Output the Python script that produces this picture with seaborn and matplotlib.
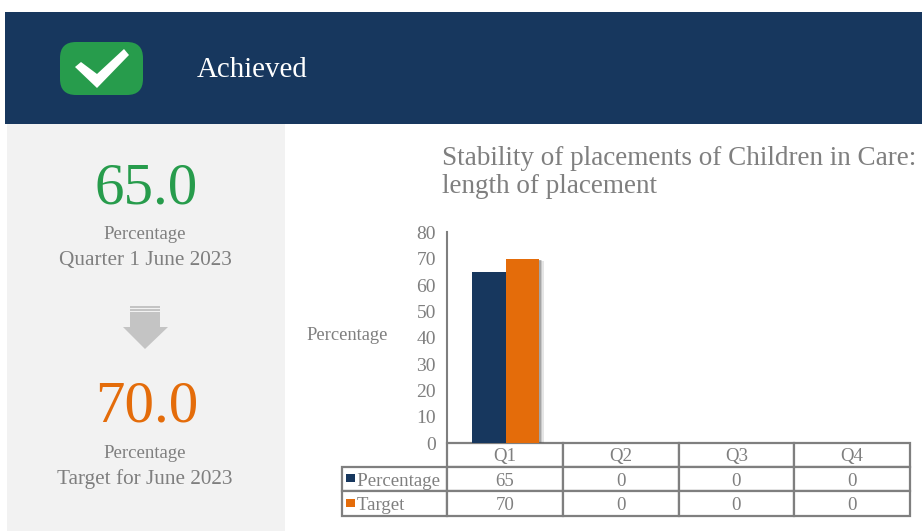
import matplotlib
matplotlib.use('Agg')
import matplotlib.pyplot as plt
import matplotlib.patheffects as pe
from matplotlib.patches import Rectangle, FancyBboxPatch, Polygon
from matplotlib.table import Table
import pandas as pd
import seaborn as sns

quarters = ['Q1', 'Q2', 'Q3', 'Q4']
percentage = [65, 0, 0, 0]
target = [70, 0, 0, 0]
series_names = ['Percentage', 'Target']
y_ticks = [0, 10, 20, 30, 40, 50, 60, 70, 80]

status = 'Achieved'
actual_value = '65.0'
actual_label = 'Quarter 1 June 2023'
target_value = '70.0'
target_label = 'Target for June 2023'
chart_title = 'Stability of placements of Children in Care:\nlength of placement'

navy = '#17375e'
orange = '#e46c0a'
green = '#279c4c'
grey = '#7f7f7f'

sns.set_theme(style='white')
plt.rcParams['font.family'] = ['Liberation Serif', 'DejaVu Serif']

W, H = 922, 531
fig = plt.figure(figsize=(W / 100, H / 100), dpi=100, facecolor='white')

# background layer in pixel coordinates
bg = fig.add_axes([0, 0, 1, 1])
bg.set_xlim(0, W)
bg.set_ylim(H, 0)
bg.axis('off')
bg.add_patch(Rectangle((5, 12), W - 5, 112, fc=navy, ec='none'))
bg.add_patch(Rectangle((7, 124), 278, H - 124, fc='#f2f2f2', ec='none'))
bg.add_patch(FancyBboxPatch((75, 57), 53, 23, boxstyle='round,pad=15,rounding_size=16',
                            fc=green, ec='none', mutation_scale=1))
bg.add_patch(Polygon([(75, 67), (81, 62), (97, 74), (124, 49), (129, 55), (97, 88)], fc='white', ec='none'))
bg.text(197, 70, status, color='white', fontsize=20.8, va='center', ha='left')

bg.text(146.5, 189, actual_value, color=green, fontsize=42.5, va='center', ha='center')
bg.text(145, 234.5, series_names[0], color=grey, fontsize=13.5, va='center', ha='center')
bg.text(145, 260.5, actual_label, color=grey, fontsize=15.3, va='center', ha='center')
bg.text(146.5, 407, target_value, color=orange, fontsize=42.5, va='center', ha='center')
bg.text(145, 453.5, series_names[0], color=grey, fontsize=13.5, va='center', ha='center')
bg.text(145, 479, target_label, color=grey, fontsize=15.3, va='center', ha='center')

# down arrow
bg.add_patch(Rectangle((130, 306), 30, 2, fc='#c4c4c4', ec='none'))
bg.add_patch(Rectangle((130, 309), 30, 2, fc='#c4c4c4', ec='none'))
bg.add_patch(Polygon([(130, 312), (160, 312), (160, 327), (168, 327), (145, 349), (123, 327), (130, 327)],
                     fc='#c4c4c4', ec='none'))

# chart
left, right, top, bottom = 447, 910, 232.5, 443
ax = fig.add_axes([left / W, 1 - bottom / H, (right - left) / W, (bottom - top) / H])
ax.patch.set_alpha(0)

df = pd.DataFrame({
    'Quarter': quarters * 2,
    'Series': [series_names[0]] * 4 + [series_names[1]] * 4,
    'Value': percentage + target,
})
sns.barplot(data=df, x='Quarter', y='Value', hue='Series', palette=[navy, orange],
            width=0.58, gap=0, saturation=1, legend=False, ax=ax)
for bar in ax.patches:
    bar.set_linewidth(0)
    bar.set_path_effects([pe.SimplePatchShadow(offset=(3.2, -1.5), shadow_rgbFace='#555555', alpha=0.15),
                          pe.SimplePatchShadow(offset=(2.2, -1), shadow_rgbFace='#555555', alpha=0.2),
                          pe.SimplePatchShadow(offset=(1.2, -0.5), shadow_rgbFace='#555555', alpha=0.3),
                          pe.Normal()])

ax.set_ylim(0, 80)
ax.set_xlim(-0.508, 3.492)
ax.set_yticks(y_ticks)
ax.tick_params(axis='y', length=0, pad=8, labelsize=14, labelcolor=grey)
ax.set_xticks([])
ax.set_xlabel('')
ax.set_ylabel('Percentage', rotation=0, color=grey, fontsize=13.3, ha='center', va='center')
ax.yaxis.set_label_coords((347 - left) / (right - left), (bottom - 335) / (bottom - top))
sns.despine(ax=ax, top=True, right=True, bottom=True)
ax.spines['left'].set_color(grey)
ax.spines['left'].set_linewidth(1.5)
ax.set_title(chart_title, loc='left', x=(442 - left) / (right - left), y=1.188, color=grey,
             fontsize=19.5, linespacing=1.15, pad=0)

# data table under the axis
plot_w = right - left
label_w = left - 342
col_w = plot_w / 4
row_h = 24.3
tbl_h = row_h * 3
tbl = Table(ax, bbox=[(342 - left) / plot_w, -(515.5 - bottom) / (bottom - top),
                      (right - 342) / plot_w, tbl_h / (bottom - top)])
rows = [series_names[0], series_names[1]]
values = [percentage, target]
for c, q in enumerate(quarters):
    tbl.add_cell(0, c + 1, col_w, row_h, text=q, loc='center', edgecolor=grey, facecolor='white')
for r in range(2):
    tbl.add_cell(r + 1, 0, label_w, row_h, text='   ' + rows[r], loc='left', edgecolor=grey, facecolor='white')
    for c, v in enumerate(values[r]):
        tbl.add_cell(r + 1, c + 1, col_w, row_h, text=str(v), loc='center', edgecolor=grey, facecolor='white')
tbl.auto_set_font_size(False)
tbl.set_fontsize(13.6)
for cell in tbl.get_celld().values():
    cell.set_linewidth(1.6)
    cell.get_text().set_color(grey)
    cell.get_text().set_verticalalignment('center_baseline')
    cell.PAD = 0.012
ax.add_table(tbl)

# legend keys in the table
bg.add_patch(Rectangle((346, 474), 9, 8, fc=navy, ec='none', zorder=5))
bg.add_patch(Rectangle((346, 499), 9, 8, fc=orange, ec='none', zorder=5))
bg.set_zorder(3)
bg.patch.set_alpha(0)
ax.set_zorder(2)

fig.savefig('out.png', dpi=100)
plt.close()
